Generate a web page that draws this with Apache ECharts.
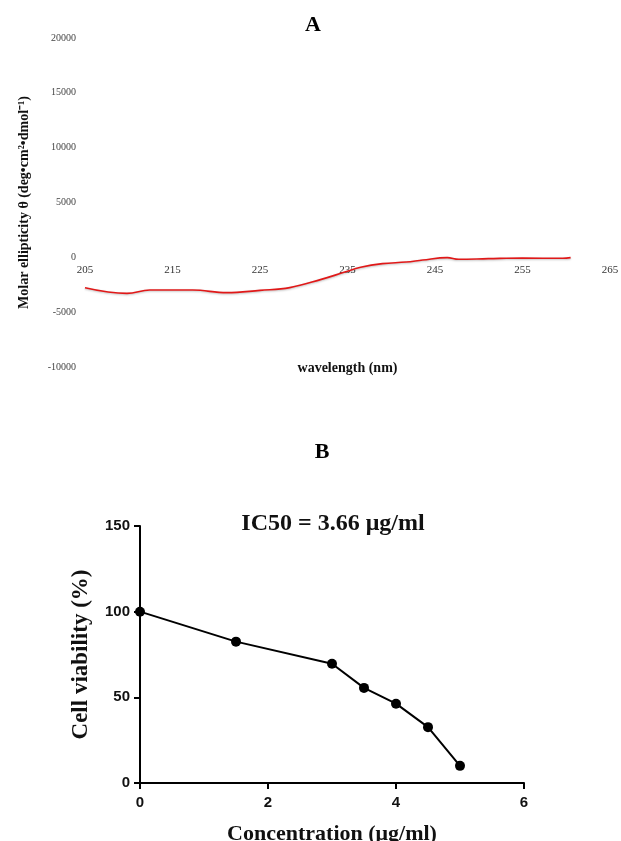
<!DOCTYPE html>
<html>
<head>
<meta charset="utf-8">
<script src="https://cdn.jsdelivr.net/npm/echarts@6/dist/echarts.min.js"></script>
<style>
  html, body { margin: 0; padding: 0; background: #fff; }
  #main { width: 621px; height: 841px; }
</style>
</head>
<body>
<div id="main"></div>
<script>
// panel A: CD spectrum
var wavelength = [205, 209.8, 212.4, 217.3, 221.2, 225, 228.4, 232, 234.6, 236.5, 239, 241.7, 243.6, 246.4, 247.7, 251.1, 255, 259.6, 260.5];
var ellipticity = [-2765, -3285, -2985, -2985, -3220, -3010, -2765, -2010, -1370, -910, -575, -430, -245, -25, -180, -120, -65, -90, -25];
// panel B: cell viability
var concentration = [0, 1.5, 3, 3.5, 4, 4.5, 5];
var viability = [100, 82.5, 69.6, 55.5, 46.3, 32.6, 10.0];

var serif = '"Liberation Serif", "Times New Roman", serif';
var sans = '"Liberation Sans", Arial, sans-serif';

var myChart = echarts.init(document.getElementById('main'));
var option = {
    animation: false,
    backgroundColor: '#fff',
    title: [
        { text: 'A', left: 313, top: 14, textAlign: 'center', padding: 0,
          textStyle: { fontFamily: serif, fontSize: 22, fontWeight: 'bold', color: '#000' } },
        { text: 'B', left: 322, top: 441, textAlign: 'center', padding: 0,
          textStyle: { fontFamily: serif, fontSize: 22, fontWeight: 'bold', color: '#000' } },
        { text: 'IC50 = 3.66 μg/ml', left: 333, top: 512, textAlign: 'center', padding: 0,
          textStyle: { fontFamily: serif, fontSize: 24, fontWeight: 'bold', color: '#111' } }
    ],
    grid: [
        { left: 85, top: 38, width: 525, height: 329, outerBoundsMode: 'none', containLabel: false },
        { left: 140, top: 526, width: 384, height: 257, outerBoundsMode: 'none', containLabel: false }
    ],
    xAxis: [
        {
            // labels sit on the zero line, no visible axis line
            gridIndex: 0, type: 'value', min: 205, max: 265, interval: 10,
            offset: -109.7,
            name: 'wavelength (nm)', nameLocation: 'middle', nameGap: 104,
            nameTextStyle: { fontFamily: serif, fontSize: 14, fontWeight: 'bold', color: '#111' },
            axisLine: { show: false, onZero: false },
            axisTick: { show: false },
            splitLine: { show: false },
            axisLabel: { fontFamily: serif, fontSize: 11, color: '#333', margin: 7 }
        },
        {
            gridIndex: 1, type: 'value', min: 0, max: 6, interval: 2,
            name: 'Concentration (μg/ml)', nameLocation: 'middle', nameGap: 40,
            nameTextStyle: { fontFamily: serif, fontSize: 22, fontWeight: 'bold', color: '#111' },
            axisLine: { lineStyle: { color: '#000', width: 2 } },
            axisTick: { length: 6, lineStyle: { color: '#000', width: 2 } },
            splitLine: { show: false },
            axisLabel: { fontFamily: sans, fontSize: 15, fontWeight: 'bold', color: '#111', margin: 12 }
        }
    ],
    yAxis: [
        {
            gridIndex: 0, type: 'value', min: -10000, max: 20000, interval: 5000,
            name: 'Molar ellipticity θ (deg•cm²•dmol⁻¹)', nameLocation: 'middle', nameGap: 54,
            nameTextStyle: { fontFamily: serif, fontSize: 14, fontWeight: 'bold', color: '#111' },
            axisLine: { show: false },
            axisTick: { show: false },
            splitLine: { show: false },
            axisLabel: { fontFamily: serif, fontSize: 10, color: '#444', margin: 9,
                         formatter: function (v) { return String(v); } }
        },
        {
            gridIndex: 1, type: 'value', min: 0, max: 150, interval: 50,
            name: 'Cell viability (%)', nameLocation: 'middle', nameGap: 47,
            nameTextStyle: { fontFamily: serif, fontSize: 23, fontWeight: 'bold', color: '#111' },
            axisLine: { lineStyle: { color: '#000', width: 2 } },
            axisTick: { length: 6, lineStyle: { color: '#000', width: 2 } },
            splitLine: { show: false },
            axisLabel: { fontFamily: sans, fontSize: 15, fontWeight: 'bold', color: '#111', margin: 10 }
        }
    ],
    series: [
        {
            type: 'line', xAxisIndex: 0, yAxisIndex: 0,
            data: wavelength.map(function (w, i) { return [w, ellipticity[i]]; }),
            smooth: 0.4, showSymbol: false,
            lineStyle: { color: '#e01818', width: 1.6, shadowColor: 'rgba(0,0,0,0.25)', shadowBlur: 2, shadowOffsetY: 1 }
        },
        {
            type: 'line', xAxisIndex: 1, yAxisIndex: 1,
            data: concentration.map(function (c, i) { return [c, viability[i]]; }),
            symbol: 'circle', symbolSize: 10,
            itemStyle: { color: '#000' },
            lineStyle: { color: '#000', width: 2 }
        }
    ]
};
myChart.setOption(option);
</script>
</body>
</html>
